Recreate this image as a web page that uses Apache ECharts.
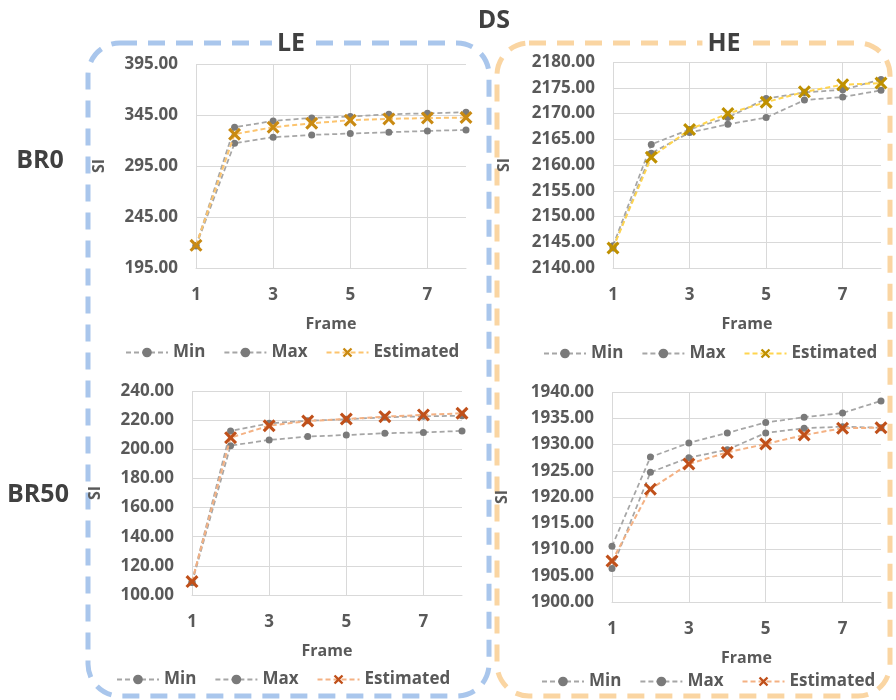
<!DOCTYPE html>
<html>
<head>
<meta charset="utf-8">
<script src="https://cdn.jsdelivr.net/npm/echarts@6/dist/echarts.min.js"></script>
<style>html,body{margin:0;padding:0;background:#fff}#c{width:896px;height:700px}</style>
</head>
<body>
<div id="c"></div>
<script>
// ---- data ----
var frames = ['1','2','3','4','5','6','7','8'];

var minLE0 = [216.5, 317.3, 323.2, 325.5, 326.8, 328.1, 329.4, 330.4];
var maxLE0 = [217.0, 333.0, 339.2, 342.1, 343.5, 345.7, 346.7, 347.7];
var estLE0 = [217.2, 326.2, 333.0, 336.9, 339.9, 341.2, 342.0, 342.5];

var minHE0 = [2143.9, 2162.3, 2166.3, 2167.9, 2169.2, 2172.6, 2173.2, 2174.5];
var maxHE0 = [2144.3, 2164.0, 2166.9, 2169.2, 2172.9, 2174.1, 2174.6, 2176.6];
var estHE0 = [2143.9, 2161.5, 2166.9, 2170.0, 2172.2, 2174.2, 2175.6, 2175.9];

var minLE50 = [108.5, 202.5, 206.4, 208.7, 209.8, 211.0, 211.6, 212.6];
var maxLE50 = [109.0, 212.6, 217.8, 219.6, 220.6, 222.0, 222.6, 223.1];
var estLE50 = [109.2, 208.0, 216.2, 219.4, 220.8, 222.4, 223.6, 224.7];

var minHE50 = [1906.4, 1924.7, 1927.5, 1929.0, 1932.2, 1933.1, 1933.4, 1933.2];
var maxHE50 = [1910.6, 1927.6, 1930.3, 1932.2, 1934.2, 1935.2, 1936.0, 1938.3];
var estHE50 = [1907.8, 1921.5, 1926.3, 1928.5, 1930.1, 1931.8, 1933.1, 1933.2];

var ticksLE0 = [195, 245, 295, 345, 395];
var ticksHE0 = [2140, 2145, 2150, 2155, 2160, 2165, 2170, 2175, 2180];
var ticksLE50 = [100, 120, 140, 160, 180, 200, 220, 240];
var ticksHE50 = [1900, 1905, 1910, 1915, 1920, 1925, 1930, 1935, 1940];

var seriesNames = ['Min', 'Max', 'Estimated'];
var panelTitles = ['LE', 'HE'];
var rowTitles = ['BR0', 'BR50'];
var mainTitle = 'DS';
var xName = 'Frame';
var yName = 'SI';

// ---- styling ----
var FONT = 'Open Sans';
var TXT = '#595959';
var GRID = '#D9D9D9';
var LABW = 'bold';
var XPATH = 'path://M0,1.7 L1.7,0 L5,3.3 L8.3,0 L10,1.7 L6.7,5 L10,8.3 L8.3,10 L5,6.7 L1.7,10 L0,8.3 L3.3,5 Z';

var panels = [
  {grid:{left:196, top:64, width:270, height:204}, ticks:ticksLE0, mn:minLE0, mx:maxLE0, est:estLE0,
   estLine:'#FCC46E', estMark:'#C98A12', nameGap:89, legend:{left:120, top:339}},
  {grid:{left:613, top:62, width:268, height:206}, ticks:ticksHE0, mn:minHE0, mx:maxHE0, est:estHE0,
   estLine:'#FFD54F', estMark:'#BF9000', nameGap:101, legend:{left:538, top:340}},
  {grid:{left:192, top:391, width:270, height:204}, ticks:ticksLE50, mn:minLE50, mx:maxLE50, est:estLE50,
   estLine:'#F4B183', estMark:'#C0501A', nameGap:89, legend:{left:111, top:666}},
  {grid:{left:612, top:392, width:269, height:210}, ticks:ticksHE50, mn:minHE50, mx:maxHE50, est:estHE50,
   estLine:'#F4B183', estMark:'#C0501A', nameGap:102, legend:{left:536, top:668}}
];

var grids = [], xAxes = [], yAxes = [], series = [], legends = [];
panels.forEach(function(p, i){
  grids.push(Object.assign({containLabel:false}, p.grid));
  xAxes.push({
    type:'category', gridIndex:i, data:frames, boundaryGap:false,
    name:xName, nameLocation:'middle', nameGap:48,
    nameTextStyle:{fontFamily:FONT, fontSize:16, fontWeight:'bold', color:TXT},
    axisLine:{show:true, lineStyle:{color:GRID, width:1}},
    axisTick:{show:false},
    axisLabel:{interval:1, margin:19, fontFamily:FONT, fontSize:17, fontWeight:LABW, color:TXT},
    splitLine:{show:true, interval:1, lineStyle:{color:GRID, width:1}}
  });
  var t = p.ticks;
  yAxes.push({
    type:'value', gridIndex:i, min:t[0], max:t[t.length-1],
    name:yName, nameLocation:'middle', nameGap:p.nameGap, nameRotate:90,
    nameTextStyle:{fontFamily:FONT, fontSize:16, fontWeight:'bold', color:TXT},
    axisLine:{show:false}, axisTick:{show:false, customValues:t},
    axisLabel:{customValues:t, margin:18, fontFamily:FONT, fontSize:17, fontWeight:LABW, color:TXT,
      formatter:function(v){return Number(v).toFixed(2);}},
    splitLine:{show:true, lineStyle:{color:GRID, width:1}}
  });
  var names = seriesNames.map(function(n){return n + '|' + i;});
  [p.mn, p.mx].forEach(function(d, k){
    series.push({
      type:'line', name:names[k], xAxisIndex:i, yAxisIndex:i, data:d,
      symbol:'circle', symbolSize:7, z:2,
      lineStyle:{color:'#A6A6A6', width:1.75, type:[5,3]},
      itemStyle:{color:'#7A7A7A'}
    });
  });
  series.push({
    type:'line', name:names[2], xAxisIndex:i, yAxisIndex:i, data:p.est,
    symbol:XPATH, symbolSize:13, z:3,
    lineStyle:{color:p.estLine, width:2, type:[5,3]},
    itemStyle:{color:p.estMark}
  });
  legends.push({
    left:p.legend.left, top:p.legend.top, data:names, orient:'horizontal',
    itemWidth:42, itemHeight:12, itemGap:18, selectedMode:false,
    formatter:function(n){return n.split('|')[0];},
    textStyle:{fontFamily:FONT, fontSize:17, fontWeight:LABW, color:TXT}
  });
});

var titleStyle = {fontFamily:FONT, fontSize:25, fontWeight:'bold', fill:'#404040'};
var option = {
  animation:false,
  backgroundColor:'#fff',
  grid:grids, xAxis:xAxes, yAxis:yAxes, series:series, legend:legends,
  graphic:[
    {type:'rect', z:-10, shape:{x:88, y:43, width:401, height:653, r:32},
     style:{fill:null, stroke:'#A9C6EC', lineWidth:5, lineDash:[17,11]}},
    {type:'rect', z:-10, shape:{x:497, y:43, width:393, height:653, r:32},
     style:{fill:null, stroke:'#FAD5A2', lineWidth:5, lineDash:[17,11]}},
    {type:'text', z:10, x:494, y:21, style:Object.assign({text:mainTitle, align:'center', verticalAlign:'middle'}, titleStyle)},
    {type:'text', z:10, x:291, y:44, style:Object.assign({text:panelTitles[0], align:'center', verticalAlign:'middle', backgroundColor:'#fff', padding:[0,5]}, titleStyle)},
    {type:'text', z:10, x:724, y:44, style:Object.assign({text:panelTitles[1], align:'center', verticalAlign:'middle', backgroundColor:'#fff', padding:[0,5]}, titleStyle)},
    {type:'text', z:10, x:40, y:161, style:Object.assign({text:rowTitles[0], align:'center', verticalAlign:'middle'}, titleStyle)},
    {type:'text', z:10, x:38, y:495, style:Object.assign({text:rowTitles[1], align:'center', verticalAlign:'middle'}, titleStyle)}
  ]
};
var chart = echarts.init(document.getElementById('c'), null, {renderer:'canvas'});
chart.setOption(option);
</script>
</body>
</html>
